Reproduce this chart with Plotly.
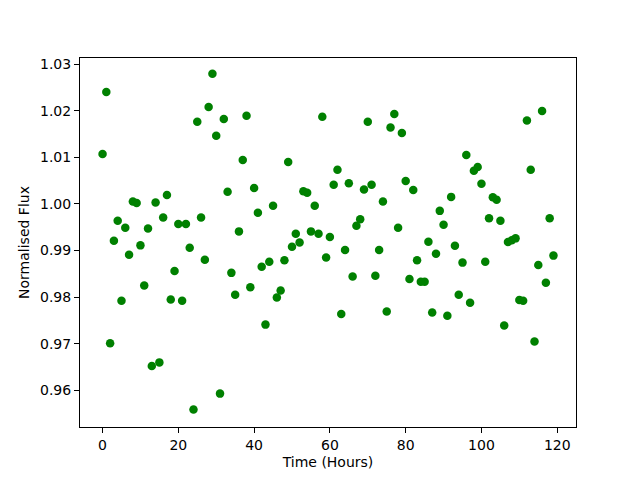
import plotly.graph_objects as go

hours = list(range(120))
flux = [
    1.0107, 1.0240, 0.9701, 0.9921, 0.9964, 0.9792, 0.9949, 0.9891, 1.0005, 1.0002,
    0.9911, 0.9825, 0.9947, 0.9652, 1.0003, 0.9660, 0.9971, 1.0019, 0.9795, 0.9856,
    0.9957, 0.9792, 0.9957, 0.9906, 0.9559, 1.0176, 0.9971, 0.9880, 1.0208, 1.0279,
    1.0146, 0.9593, 1.0182, 1.0026, 0.9852, 0.9805, 0.9941, 1.0094, 1.0189, 0.9821,
    1.0034, 0.9981, 0.9865, 0.9741, 0.9876, 0.9996, 0.9799, 0.9814, 0.9879, 1.0090,
    0.9908, 0.9936, 0.9917, 1.0027, 1.0024, 0.9941, 0.9996, 0.9936, 1.0187, 0.9885,
    0.9929, 1.0041, 1.0073, 0.9764, 0.9901, 1.0044, 0.9844, 0.9953, 0.9967, 1.0031,
    1.0176, 1.0041, 0.9846, 0.9901, 1.0005, 0.9769, 1.0164, 1.0193, 0.9949, 1.0152,
    1.0049, 0.9839, 1.0030, 0.9879, 0.9833, 0.9833, 0.9919, 0.9767, 0.9893, 0.9985,
    0.9955, 0.9760, 1.0015, 0.9910, 0.9805, 0.9874, 1.0105, 0.9788, 1.0071, 1.0079,
    1.0043, 0.9876, 0.9969, 1.0014, 1.0009, 0.9964, 0.9739, 0.9918, 0.9922, 0.9926,
    0.9794, 0.9792, 1.0179, 1.0073, 0.9705, 0.9869, 1.0199, 0.9831, 0.9969, 0.9889,
]
x_ticks = [0, 20, 40, 60, 80, 100, 120]
y_ticks = [0.96, 0.97, 0.98, 0.99, 1.00, 1.01, 1.02, 1.03]

fig = go.Figure()
fig.add_trace(go.Scatter(
    x=hours, y=flux, mode="markers",
    marker=dict(color="#008000", size=8.5, line=dict(width=0)),
))

axis_common = dict(
    showline=True, linecolor="black", linewidth=1, mirror=True,
    ticks="outside", ticklen=5, tickwidth=1, tickcolor="black",
    showgrid=False, zeroline=False,
    tickfont=dict(family="DejaVu Sans", size=14, color="black"),
)

fig.update_layout(
    width=640, height=480,
    margin=dict(l=72, r=72, t=50, b=61),
    paper_bgcolor="white", plot_bgcolor="white",
    showlegend=False,
    font=dict(family="DejaVu Sans", size=14, color="black"),
    xaxis=dict(
        range=[-5.95, 124.95], tickvals=x_ticks,
        ticktext=[str(v) for v in x_ticks],
        title=dict(text="Time (Hours)", standoff=5,
                   font=dict(family="DejaVu Sans", size=14, color="black")),
        **axis_common,
    ),
    yaxis=dict(
        range=[0.95214, 1.03129], tickvals=y_ticks,
        ticktext=[f"{v:.2f}" for v in y_ticks],
        title=dict(text="Normalised Flux", standoff=7,
                   font=dict(family="DejaVu Sans", size=14, color="black")),
        **axis_common,
    ),
)

fig.write_html("out.html")
